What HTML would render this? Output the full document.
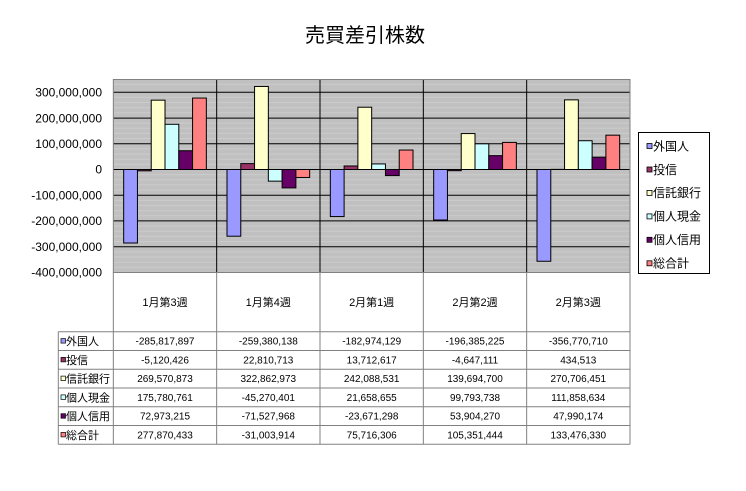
<!DOCTYPE html>
<html>
<head>
<meta charset="utf-8">
<style>
html,body{margin:0;padding:0;background:#fff;}
svg{display:block;}
text{font-family:"Liberation Sans","Noto Sans CJK JP",sans-serif;fill:#000;}
</style>
</head>
<body>
<svg width="746" height="491" viewBox="0 0 746 491" xmlns="http://www.w3.org/2000/svg">
<rect x="0" y="0" width="746" height="491" fill="#fff"/>
<!-- Title -->
<text x="365" y="42" font-size="20" text-anchor="middle">売買差引株数</text>

<!-- Plot background -->
<rect x="113.33" y="79.5" width="516.67" height="193" fill="#c0c0c0"/>
<!-- minor gridlines -->
<g stroke="#cbcbcb" stroke-width="1">
<line x1="113.33" x2="630" y1="84.4" y2="84.4"/>
<line x1="113.33" x2="630" y1="97.4" y2="97.4"/>
<line x1="113.33" x2="630" y1="102.5" y2="102.5"/>
<line x1="113.33" x2="630" y1="107.6" y2="107.6"/>
<line x1="113.33" x2="630" y1="112.8" y2="112.8"/>
<line x1="113.33" x2="630" y1="123.1" y2="123.1"/>
<line x1="113.33" x2="630" y1="128.2" y2="128.2"/>
<line x1="113.33" x2="630" y1="133.4" y2="133.4"/>
<line x1="113.33" x2="630" y1="138.5" y2="138.5"/>
<line x1="113.33" x2="630" y1="148.9" y2="148.9"/>
<line x1="113.33" x2="630" y1="154.1" y2="154.1"/>
<line x1="113.33" x2="630" y1="159.2" y2="159.2"/>
<line x1="113.33" x2="630" y1="164.4" y2="164.4"/>
<line x1="113.33" x2="630" y1="174.6" y2="174.6"/>
<line x1="113.33" x2="630" y1="179.8" y2="179.8"/>
<line x1="113.33" x2="630" y1="184.9" y2="184.9"/>
<line x1="113.33" x2="630" y1="190.1" y2="190.1"/>
<line x1="113.33" x2="630" y1="200.4" y2="200.4"/>
<line x1="113.33" x2="630" y1="205.5" y2="205.5"/>
<line x1="113.33" x2="630" y1="210.7" y2="210.7"/>
<line x1="113.33" x2="630" y1="215.8" y2="215.8"/>
<line x1="113.33" x2="630" y1="226.1" y2="226.1"/>
<line x1="113.33" x2="630" y1="231.3" y2="231.3"/>
<line x1="113.33" x2="630" y1="236.4" y2="236.4"/>
<line x1="113.33" x2="630" y1="241.6" y2="241.6"/>
<line x1="113.33" x2="630" y1="251.9" y2="251.9"/>
<line x1="113.33" x2="630" y1="257.0" y2="257.0"/>
<line x1="113.33" x2="630" y1="262.2" y2="262.2"/>
<line x1="113.33" x2="630" y1="267.3" y2="267.3"/>
</g>
<!-- major gridlines -->
<g stroke="#000" stroke-width="1">
<line x1="113.33" x2="630" y1="92.3" y2="92.3"/>
<line x1="113.33" x2="630" y1="118.1" y2="118.1"/>
<line x1="113.33" x2="630" y1="143.8" y2="143.8"/>
<line x1="113.33" x2="630" y1="169.5" y2="169.5"/>
<line x1="113.33" x2="630" y1="195.2" y2="195.2"/>
<line x1="113.33" x2="630" y1="220.9" y2="220.9"/>
<line x1="113.33" x2="630" y1="246.7" y2="246.7"/>
<!-- category separators -->
<line x1="216.67" x2="216.67" y1="79.5" y2="272.5"/>
<line x1="320" x2="320" y1="79.5" y2="272.5"/>
<line x1="423.33" x2="423.33" y1="79.5" y2="272.5"/>
<line x1="526.67" x2="526.67" y1="79.5" y2="272.5"/>
</g>

<!-- Bars -->
<g stroke="#000" stroke-width="1">
<!-- 外国人 -->
<g fill="#9999ff">
<rect x="123.67" y="169.5" width="13.78" height="73.51"/>
<rect x="227.0" y="169.5" width="13.78" height="66.71"/>
<rect x="330.33" y="169.5" width="13.78" height="47.06"/>
<rect x="433.67" y="169.5" width="13.78" height="50.51"/>
<rect x="537.0" y="169.5" width="13.78" height="91.76"/>
</g>
<!-- 投信 -->
<g fill="#993366">
<rect x="137.45" y="169.5" width="13.78" height="1.32"/>
<rect x="240.78" y="163.63" width="13.78" height="5.87"/>
<rect x="344.11" y="165.97" width="13.78" height="3.53"/>
<rect x="447.45" y="169.5" width="13.78" height="1.2"/>
<rect x="550.78" y="169.39" width="13.78" height="0.11"/>
</g>
<!-- 信託銀行 -->
<g fill="#ffffcc">
<rect x="151.23" y="100.17" width="13.78" height="69.33"/>
<rect x="254.56" y="86.46" width="13.78" height="83.04"/>
<rect x="357.89" y="107.23" width="13.78" height="62.27"/>
<rect x="461.23" y="133.57" width="13.78" height="35.93"/>
<rect x="564.56" y="99.87" width="13.78" height="69.63"/>
</g>
<!-- 個人現金 -->
<g fill="#ccffff">
<rect x="165.01" y="124.29" width="13.78" height="45.21"/>
<rect x="268.34" y="169.5" width="13.78" height="11.64"/>
<rect x="371.67" y="163.93" width="13.78" height="5.57"/>
<rect x="475.01" y="143.83" width="13.78" height="25.67"/>
<rect x="578.34" y="140.73" width="13.78" height="28.77"/>
</g>
<!-- 個人信用 -->
<g fill="#660066">
<rect x="178.79" y="150.73" width="13.78" height="18.77"/>
<rect x="282.12" y="169.5" width="13.78" height="18.4"/>
<rect x="385.45" y="169.5" width="13.78" height="6.09"/>
<rect x="488.79" y="155.64" width="13.78" height="13.86"/>
<rect x="592.12" y="157.16" width="13.78" height="12.34"/>
</g>
<!-- 総合計 -->
<g fill="#ff8080">
<rect x="192.57" y="98.03" width="13.78" height="71.47"/>
<rect x="295.9" y="169.5" width="13.78" height="7.97"/>
<rect x="399.23" y="150.03" width="13.78" height="19.47"/>
<rect x="502.57" y="142.4" width="13.78" height="27.1"/>
<rect x="605.9" y="135.17" width="13.78" height="34.33"/>
</g>
</g>

<!-- Plot border -->
<rect x="113.33" y="79.5" width="516.67" height="193" fill="none" stroke="#808080" stroke-width="1"/>

<!-- Y axis labels -->
<g font-size="12" text-anchor="end">
<text x="102" y="96.5">300,000,000</text>
<text x="102" y="122.3">200,000,000</text>
<text x="102" y="148">100,000,000</text>
<text x="102" y="173.7">0</text>
<text x="102" y="199.4">-100,000,000</text>
<text x="102" y="225.1">-200,000,000</text>
<text x="102" y="250.9">-300,000,000</text>
<text x="102" y="276.6">-400,000,000</text>
</g>

<!-- Data table lines -->
<g stroke="#808080" stroke-width="1">
<line x1="113.33" x2="113.33" y1="272.5" y2="444.3"/>
<line x1="216.67" x2="216.67" y1="272.5" y2="444.3"/>
<line x1="320" x2="320" y1="272.5" y2="444.3"/>
<line x1="423.33" x2="423.33" y1="272.5" y2="444.3"/>
<line x1="526.67" x2="526.67" y1="272.5" y2="444.3"/>
<line x1="630" x2="630" y1="272.5" y2="444.3"/>
<line x1="58.3" x2="58.3" y1="331.7" y2="444.3"/>
<line x1="58.3" x2="630" y1="331.7" y2="331.7"/>
<line x1="58.3" x2="630" y1="350.5" y2="350.5"/>
<line x1="58.3" x2="630" y1="369.2" y2="369.2"/>
<line x1="58.3" x2="630" y1="388.0" y2="388.0"/>
<line x1="58.3" x2="630" y1="406.8" y2="406.8"/>
<line x1="58.3" x2="630" y1="425.5" y2="425.5"/>
<line x1="58.3" x2="630" y1="444.3" y2="444.3"/>
</g>

<!-- Category labels -->
<g font-size="11" text-anchor="middle">
<text x="165" y="306">1月第3週</text>
<text x="268.3" y="306">1月第4週</text>
<text x="371.7" y="306">2月第1週</text>
<text x="475" y="306">2月第2週</text>
<text x="578.3" y="306">2月第3週</text>
</g>

<!-- Table legend keys -->
<g stroke="#000" stroke-width="0.7">
<rect x="61" y="338.6" width="4.5" height="4.5" fill="#9999ff"/>
<rect x="61" y="357.4" width="4.5" height="4.5" fill="#993366"/>
<rect x="61" y="376.1" width="4.5" height="4.5" fill="#ffffcc"/>
<rect x="61" y="394.9" width="4.5" height="4.5" fill="#ccffff"/>
<rect x="61" y="413.7" width="4.5" height="4.5" fill="#660066"/>
<rect x="61" y="432.4" width="4.5" height="4.5" fill="#ff8080"/>
</g>
<g font-size="11">
<text x="66" y="345">外国人</text>
<text x="66" y="363.8">投信</text>
<text x="66" y="382.5">信託銀行</text>
<text x="66" y="401.3">個人現金</text>
<text x="66" y="420.1">個人信用</text>
<text x="66" y="438.8">総合計</text>
</g>

<!-- Table values -->
<g font-size="10" text-anchor="middle">
<text x="165" y="344.6">-285,817,897</text>
<text x="268.3" y="344.6">-259,380,138</text>
<text x="371.7" y="344.6">-182,974,129</text>
<text x="475" y="344.6">-196,385,225</text>
<text x="578.3" y="344.6">-356,770,710</text>

<text x="165" y="363.4">-5,120,426</text>
<text x="268.3" y="363.4">22,810,713</text>
<text x="371.7" y="363.4">13,712,617</text>
<text x="475" y="363.4">-4,647,111</text>
<text x="578.3" y="363.4">434,513</text>

<text x="165" y="382.1">269,570,873</text>
<text x="268.3" y="382.1">322,862,973</text>
<text x="371.7" y="382.1">242,088,531</text>
<text x="475" y="382.1">139,694,700</text>
<text x="578.3" y="382.1">270,706,451</text>

<text x="165" y="400.9">175,780,761</text>
<text x="268.3" y="400.9">-45,270,401</text>
<text x="371.7" y="400.9">21,658,655</text>
<text x="475" y="400.9">99,793,738</text>
<text x="578.3" y="400.9">111,858,634</text>

<text x="165" y="419.7">72,973,215</text>
<text x="268.3" y="419.7">-71,527,968</text>
<text x="371.7" y="419.7">-23,671,298</text>
<text x="475" y="419.7">53,904,270</text>
<text x="578.3" y="419.7">47,990,174</text>

<text x="165" y="438.4">277,870,433</text>
<text x="268.3" y="438.4">-31,003,914</text>
<text x="371.7" y="438.4">75,716,306</text>
<text x="475" y="438.4">105,351,444</text>
<text x="578.3" y="438.4">133,476,330</text>
</g>

<!-- Legend -->
<rect x="638.5" y="132.5" width="71" height="141" fill="#fff" stroke="#000" stroke-width="1"/>
<g stroke="#000" stroke-width="0.8">
<rect x="647" y="143.5" width="5" height="5" fill="#9999ff"/>
<rect x="647" y="167" width="5" height="5" fill="#993366"/>
<rect x="647" y="190.4" width="5" height="5" fill="#ffffcc"/>
<rect x="647" y="213.9" width="5" height="5" fill="#ccffff"/>
<rect x="647" y="237.3" width="5" height="5" fill="#660066"/>
<rect x="647" y="260.8" width="5" height="5" fill="#ff8080"/>
</g>
<g font-size="12">
<text x="653" y="150.3">外国人</text>
<text x="653" y="173.8">投信</text>
<text x="653" y="197.2">信託銀行</text>
<text x="653" y="220.7">個人現金</text>
<text x="653" y="244.1">個人信用</text>
<text x="653" y="267.6">総合計</text>
</g>
</svg>
</body>
</html>
